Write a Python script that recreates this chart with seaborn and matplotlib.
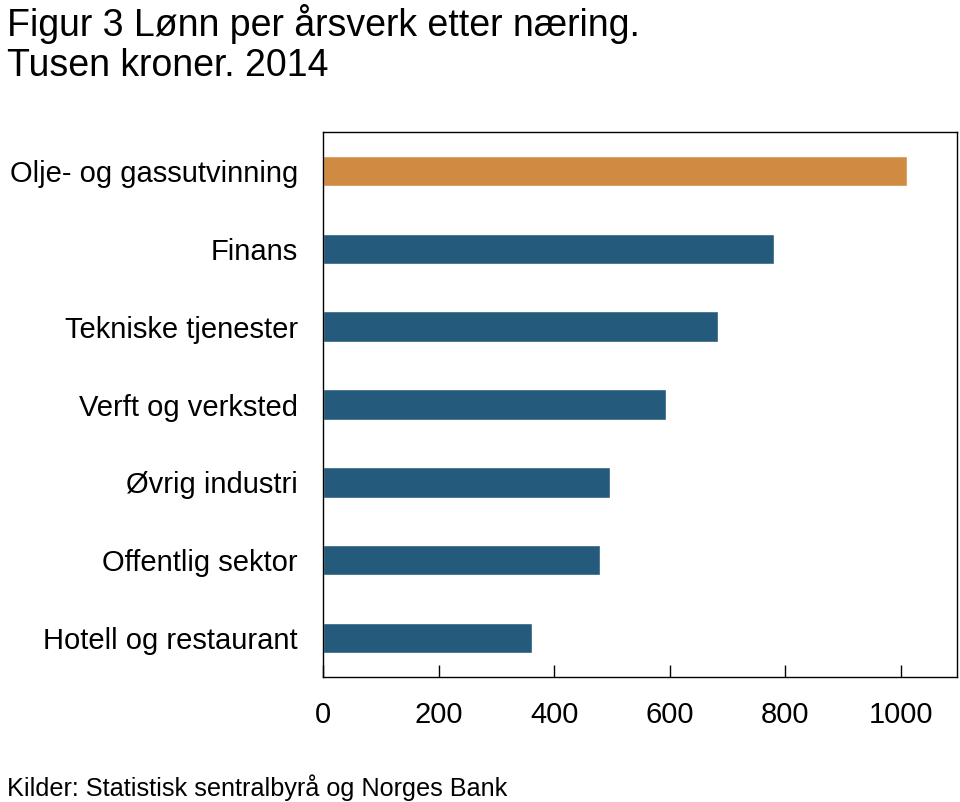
import matplotlib.pyplot as plt
import pandas as pd
import seaborn as sns

# Data
naering = ['Olje- og gassutvinning', 'Finans', 'Tekniske tjenester', 'Verft og verksted',
           'Øvrig industri', 'Offentlig sektor', 'Hotell og restaurant']
lonn = [1010, 781, 683, 594, 496, 479, 362]
farge = ['#CF8B42', '#245A7B', '#245A7B', '#245A7B', '#245A7B', '#245A7B', '#245A7B']
x_ticks = [0, 200, 400, 600, 800, 1000]

df = pd.DataFrame({'naering': naering, 'lonn': lonn})

sns.set_style('white')
plt.rcParams['font.family'] = ['Liberation Sans', 'DejaVu Sans']
plt.rcParams['text.color'] = 'black'
plt.rcParams['xtick.color'] = 'black'
plt.rcParams['ytick.color'] = 'black'

fig = plt.figure(figsize=(9.6, 8.02), dpi=100)
ax = fig.add_axes([323 / 960, 1 - 677 / 802, (957 - 323) / 960, (677 - 132) / 802])

sns.barplot(data=df, x='lonn', y='naering', hue='naering', palette=farge,
            legend=False, width=0.39, saturation=1, ax=ax)

ax.set_xlim(0, 1097)
ax.set_ylim(6.5, -0.5)
ax.set_xticks(x_ticks)
ax.set_xlabel('')
ax.set_ylabel('')
ax.tick_params(axis='x', bottom=True, direction='in', length=9, width=1, color='black',
               labelcolor='black', labelsize=21, pad=17)
ax.tick_params(axis='y', left=False, length=0, labelsize=21, labelcolor='black', pad=18)
for s in ax.spines.values():
    s.set_visible(True)
    s.set_color('black')
    s.set_linewidth(1)

fig.text(0.007, 1 - 36 / 802, 'Figur 3 Lønn per årsverk etter næring.', fontsize=27,
         va='baseline')
fig.text(0.007, 1 - 76 / 802, 'Tusen kroner. 2014', fontsize=27, va='baseline')
fig.text(0.007, 1 - 796 / 802, 'Kilder: Statistisk sentralbyrå og Norges Bank', fontsize=18.2,
         va='baseline')

fig.savefig('out.png', dpi=100)
